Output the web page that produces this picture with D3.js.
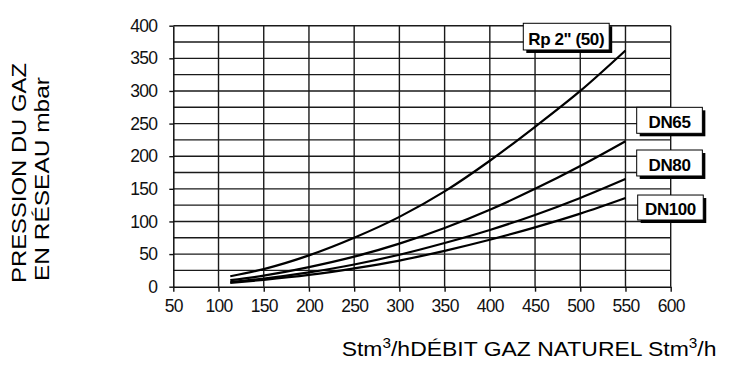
<!DOCTYPE html>
<html>
<head>
<meta charset="utf-8">
<script src="https://cdn.jsdelivr.net/npm/d3@7"></script>
<style>
body { margin: 0; background: #fff; }
svg { display: block; font-family: 'Liberation Sans', Arial, sans-serif; }
</style>
</head>
<body>
<svg id="canvas" width="738" height="367"></svg>
<script>
// débit (Stm3/h) and pressure (mbar)
let flow = [113, 150, 200, 250, 300, 350, 400, 450, 500, 550]
let rp50 = [16, 27, 48, 75, 107, 146, 193, 245, 300, 362]
let dn65 = [10, 17, 30, 46, 66, 90, 118, 150, 185, 223]
let dn80 = [7, 12.5, 22, 34, 49, 67, 87, 110, 136, 165]
let dn100 = [6, 10.5, 18, 28, 40, 55, 72, 91, 112, 136]
let seriesNames = ['Rp 2" (50)', 'DN65', 'DN80', 'DN100']

let xTicks = [50, 100, 150, 200, 250, 300, 350, 400, 450, 500, 550, 600]
let yTicks = [0, 50, 100, 150, 200, 250, 300, 350, 400]
let yGrid = d3.range(25, 401, 25)

// label boxes, in data units: [x0, x1, yTop, yBottom]
let labelBoxes = [
    [437, 532, 403.7, 362.8],
    [562.4, 635, 274.9, 235.1],
    [562.4, 635, 209.5, 169.7],
    [563.5, 636, 140.5, 102.2]
]

let canvas = d3.select('#canvas')

let x = d3.scaleLinear().domain([50, 600]).range([173.3, 670.7])
let y = d3.scaleLinear().domain([0, 400]).range([286.7, 25.7])

let grid = canvas.append('g')
    .attr('stroke', '#1a1a1a')
    .attr('stroke-width', 1.4)
grid.selectAll('line.h')
    .data(yGrid)
    .enter()
    .append('line')
    .attr('class', 'h')
    .attr('x1', x(50)).attr('x2', x(600))
    .attr('y1', (d) => y(d)).attr('y2', (d) => y(d))
grid.selectAll('line.v')
    .data(xTicks.slice(1))
    .enter()
    .append('line')
    .attr('class', 'v')
    .attr('x1', (d) => x(d)).attr('x2', (d) => x(d))
    .attr('y1', y(0)).attr('y2', y(400))

let styleAxis = (g) => {
    g.select('.domain').attr('stroke', '#111').attr('stroke-width', 1.5)
    g.selectAll('.tick line').attr('stroke', '#111').attr('stroke-width', 1.4)
    g.selectAll('.tick text')
        .attr('fill', '#111')
        .style('font-size', '17.5px')
        .style('letter-spacing', '-0.7px')
        .style('font-family', "'Liberation Sans', Arial, sans-serif")
}

canvas.append('g')
    .attr('transform', 'translate(0,' + y(0) + ')')
    .call(d3.axisBottom(x).tickValues(xTicks).tickSize(5).tickSizeOuter(0).tickPadding(8))
    .call(styleAxis)

canvas.append('g')
    .attr('transform', 'translate(' + x(50) + ',0)')
    .call(d3.axisLeft(y).tickValues(yTicks).tickSize(4).tickSizeOuter(0).tickPadding(12))
    .call(styleAxis)

let line = d3.line()
    .x((d) => x(d[0]))
    .y((d) => y(d[1]))
    .curve(d3.curveMonotoneX)

let series = [rp50, dn65, dn80, dn100]
canvas.append('g')
    .selectAll('path')
    .data(series)
    .enter()
    .append('path')
    .attr('d', (vals) => line(flow.map((f, i) => [f, vals[i]])))
    .attr('fill', 'none')
    .attr('stroke', '#000')
    .attr('stroke-width', 2.2)

// labels with shadow
let lab = canvas.append('g')
    .selectAll('g')
    .data(labelBoxes)
    .enter()
    .append('g')
lab.append('rect')
    .attr('x', (b) => x(b[0]) + 3)
    .attr('y', (b) => y(b[2]) + 3)
    .attr('width', (b) => x(b[1]) - x(b[0]))
    .attr('height', (b) => y(b[3]) - y(b[2]))
    .attr('fill', '#000')
lab.append('rect')
    .attr('x', (b) => x(b[0]))
    .attr('y', (b) => y(b[2]))
    .attr('width', (b) => x(b[1]) - x(b[0]))
    .attr('height', (b) => y(b[3]) - y(b[2]))
    .attr('fill', '#fff')
    .attr('stroke', '#000')
    .attr('stroke-width', 1)
lab.append('text')
    .text((b, i) => seriesNames[i])
    .attr('x', (b) => (x(b[0]) + x(b[1])) / 2)
    .attr('y', (b) => y(b[3]) - 5)
    .attr('text-anchor', 'middle')
    .style('font-size', '17px')
    .style('letter-spacing', '-0.4px')
    .style('font-weight', 'bold')
    .attr('fill', '#000')

// y title, two rotated lines stretched to the lengths seen
let yTitle = [['PRESSION DU GAZ', 26, 283, 220], ['EN RÉSEAU mbar', 49, 281, 204]]
yTitle.forEach((t) => {
    let el = canvas.append('text')
        .text(t[0])
        .style('font-size', '21px')
        .attr('fill', '#000')
    let w = el.node().getComputedTextLength()
    el.attr('transform', 'translate(' + t[1] + ',' + t[2] + ') rotate(-90) scale(' + (t[3] / w) + ',1)')
})

// x title with superscripts
let xt = canvas.append('text')
    .style('font-size', '21px')
    .attr('fill', '#000')
xt.append('tspan').text('Stm')
xt.append('tspan').text('3').attr('dy', -8).style('font-size', '14px')
xt.append('tspan').text('/hDÉBIT GAZ NATUREL Stm').attr('dy', 8)
xt.append('tspan').text('3').attr('dy', -8).style('font-size', '14px')
xt.append('tspan').text('/h').attr('dy', 8)
let xw = xt.node().getBBox().width
xt.attr('transform', 'translate(341.7,356) scale(' + (375 / xw) + ',1)')
</script>
</body>
</html>
